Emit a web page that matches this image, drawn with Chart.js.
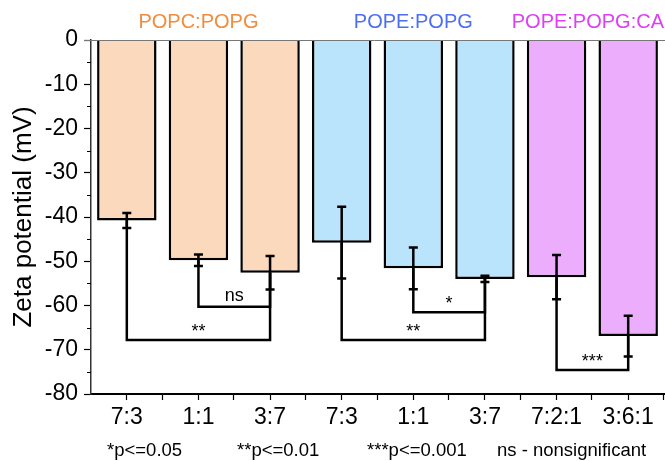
<!DOCTYPE html>
<html>
<head>
<meta charset="utf-8">
<script src="https://cdn.jsdelivr.net/npm/chart.js@4"></script>
<style>
  html, body { margin: 0; padding: 0; background: #fff; }
  #wrap { width: 665px; height: 461px; }
</style>
</head>
<body>
<div id="wrap"><canvas id="chart" width="665" height="461"></canvas></div>
<script>
// ── Data ──────────────────────────────────────────────────────────
const ratios   = ['7:3', '1:1', '3:7', '7:3', '1:1', '3:7', '7:2:1', '3:6:1'];
const zeta     = [-40.8, -49.8, -52.6, -45.8, -51.6, -54.0, -53.6, -66.9];
const zetaErr  = [1.7, 1.3, 3.8, 8.1, 4.7, 0.7, 5.0, 4.6];
const groupOf  = [0, 0, 0, 1, 1, 1, 2, 2];
const groups   = ['POPC:POPG', 'POPE:POPG', 'POPE:POPG:CA'];
const yTicks   = [0, -10, -20, -30, -40, -50, -60, -70, -80];

// significance brackets: bar index pairs, bracket level (mV), label
const bracketFrom  = [1, 0, 4, 3, 6];
const bracketTo    = [2, 2, 5, 5, 7];
const bracketLevel = [-60.3, -67.8, -61.5, -67.8, -74.6];
const bracketText  = ['ns', '**', '*', '**', '***'];

const footnotes = ['*p<=0.05', '**p<=0.01', '***p<=0.001', 'ns - nonsignificant'];

// Colors per lipid group
const FILL = ['#fad9bd', '#b9e4fc', '#ecaefc'];
const TEXT = ['#f28c3c', '#4c6ef5', '#de3ff5'];
const FONT = "'Liberation Sans', Arial, sans-serif";

// ── Overlay: error bars, brackets, labels, minor ticks ───────────
const overlay = {
  id: 'overlay',
  afterDatasetsDraw(chart) {
    const { ctx, scales: { x, y } } = chart;
    ctx.save();
    ctx.strokeStyle = '#000';
    ctx.lineWidth = 2.5;
    ctx.lineJoin = 'miter';

    // brackets
    bracketFrom.forEach((from, k) => {
      const to = bracketTo[k];
      const x1 = x.getPixelForValue(from);
      const x2 = x.getPixelForValue(to);
      const yl = y.getPixelForValue(bracketLevel[k]);
      ctx.beginPath();
      ctx.moveTo(x1, y.getPixelForValue(zeta[from]));
      ctx.lineTo(x1, yl);
      ctx.lineTo(x2, yl);
      ctx.lineTo(x2, y.getPixelForValue(zeta[to]));
      ctx.stroke();

      ctx.fillStyle = '#000';
      ctx.font = `18px ${FONT}`;
      ctx.textAlign = 'center';
      ctx.textBaseline = 'alphabetic';
      const lift = bracketText[k] === 'ns' ? 6 : 3;
      ctx.fillText(bracketText[k], (x1 + x2) / 2, yl - lift);
    });

    // error bars
    zeta.forEach((v, i) => {
      const px = x.getPixelForValue(i);
      const hi = y.getPixelForValue(v + zetaErr[i]);
      const lo = y.getPixelForValue(v - zetaErr[i]);
      ctx.beginPath();
      ctx.moveTo(px, hi); ctx.lineTo(px, lo);
      ctx.moveTo(px - 4.5, hi); ctx.lineTo(px + 4.5, hi);
      ctx.moveTo(px - 4.5, lo); ctx.lineTo(px + 4.5, lo);
      ctx.stroke();
    });
    ctx.restore();
  },
  afterDraw(chart) {
    const { ctx, chartArea: a, scales: { x, y } } = chart;
    ctx.save();

    // top frame line
    ctx.strokeStyle = '#777';
    ctx.lineWidth = 1;
    ctx.beginPath();
    ctx.moveTo(a.left - 7, a.top + 0.5);
    ctx.lineTo(chart.width, a.top + 0.5);
    ctx.stroke();

    // minor ticks
    ctx.strokeStyle = '#000';
    ctx.lineWidth = 1.2;
    ctx.beginPath();
    for (let v = -75; v < 0; v += 10) {
      const py = Math.round(y.getPixelForValue(v)) + 0.5;
      ctx.moveTo(a.left - 4, py); ctx.lineTo(a.left, py);
    }
    for (let i = 0; i < ratios.length; i++) {
      const px = Math.round(x.getPixelForValue(i + 0.5)) - 0.5;
      ctx.moveTo(px, a.bottom); ctx.lineTo(px, a.bottom + 6);
    }
    ctx.stroke();

    // group labels
    ctx.font = `20px ${FONT}`;
    ctx.textAlign = 'center';
    ctx.textBaseline = 'middle';
    groups.forEach((g, gi) => {
      const idx = groupOf.map((gr, i) => gr === gi ? i : -1).filter(i => i >= 0);
      let cx = (x.getPixelForValue(idx[0]) + x.getPixelForValue(idx[idx.length - 1])) / 2;
      const w = ctx.measureText(g).width;
      cx = Math.min(cx, chart.width - w / 2 - 1);
      ctx.fillStyle = TEXT[gi];
      ctx.fillText(g, cx, 22);
    });

    // footnotes
    ctx.fillStyle = '#000';
    ctx.font = `18.5px ${FONT}`;
    ctx.textAlign = 'left';
    ctx.textBaseline = 'alphabetic';
    footnotes.forEach((t, i) => ctx.fillText(t, 107 + i * 130, 456));

    ctx.restore();
  },
};

new Chart(document.getElementById('chart'), {
  type: 'bar',
  data: {
    labels: ratios,
    datasets: [{
      data: zeta,
      backgroundColor: groupOf.map(g => FILL[g]),
      borderColor: '#000',
      borderWidth: 2.5,
      categoryPercentage: 1,
      barPercentage: 0.83,
    }],
  },
  options: {
    responsive: false,
    animation: false,
    devicePixelRatio: 1,
    layout: { padding: { top: 40, right: 1, left: 0, bottom: 0 } },
    plugins: {
      legend: { display: false },
      tooltip: { enabled: false },
    },
    scales: {
      x: {
        offset: true,
        grid: { offset: false, drawOnChartArea: false, tickLength: 6, color: '#000', tickWidth: 1.2 },
        border: { display: true, color: '#000', width: 2 },
        ticks: {
          color: '#000', font: { family: FONT, size: 23 },
          padding: 4, autoSkip: false, maxRotation: 0,
        },
        afterFit: s => { s.height = 67; },
      },
      y: {
        min: -80,
        max: 0,
        afterBuildTicks: s => { s.ticks = yTicks.map(v => ({ value: v })); },
        grid: { drawOnChartArea: false, tickLength: 7, color: '#000', tickWidth: 1.2 },
        border: { display: true, color: '#333', width: 1.5 },
        ticks: {
          color: '#000', font: { family: FONT, size: 23 }, padding: 6,
          callback: v => String(v),
        },
        title: {
          display: true, text: 'Zeta potential (mV)', color: '#000',
          font: { family: FONT, size: 26 }, padding: { top: 8, bottom: 0 },
        },
        afterFit: s => { s.width = 91; },
      },
    },
  },
  plugins: [overlay],
});
</script>
</body>
</html>
